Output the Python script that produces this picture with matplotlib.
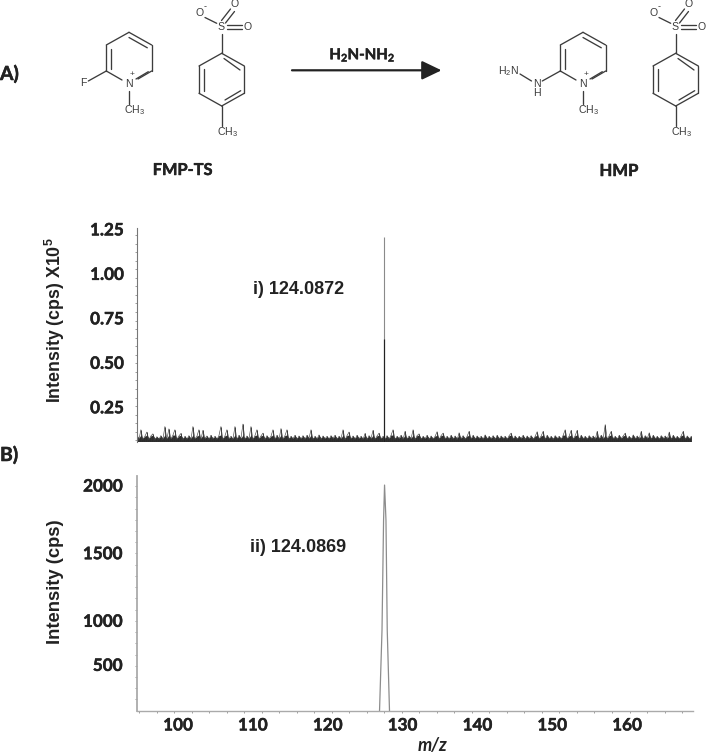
import matplotlib

matplotlib.use("Agg")
import matplotlib.patheffects as pe
import matplotlib.pyplot as plt
import numpy as np

plt.rcParams["font.family"] = ["Lato", "DejaVu Sans"]
plt.rcParams["mathtext.default"] = "regular"

W, H = 706, 754

# top spectrum, x10^5 cps
peak_top_mz = 127.55
peak_top_tall = 1.205
peak_top_dark = 0.63
noise_floor = 0.074
noise_cap = 0.092
noise_start_mz = 94.5
noise_step_mz = 0.2674
# baseline noise, in units of 0.001 x10^5 cps
noise_top = [
    92, 62, 121, 66, 84, 108, 64, 86, 98, 62,
    82, 66, 88, 64, 139, 68, 126, 70, 90, 121,
    66, 86, 100, 62, 84, 66, 88, 64, 139, 70,
    84, 121, 66, 118, 72, 86, 64, 90, 68, 84,
    66, 88, 139, 64, 86, 121, 70, 84, 66, 139,
    64, 90, 72, 153, 66, 86, 68, 139, 64, 88,
    121, 68, 86, 102, 64, 88, 70, 84, 121, 66,
    90, 64, 128, 68, 88, 121, 66, 84, 70, 90,
    64, 86, 68, 88, 66, 90, 72, 121, 66, 84,
    68, 92, 64, 86, 70, 84, 66, 88, 72, 90,
    66, 84, 70, 121, 64, 88, 108, 68, 86, 66,
    90, 70, 84, 66, 100, 64, 88, 72, 118, 66,
    86, 102, 70, 84, 66, 88, 68, 90, 121, 66,
    84, 72, 90, 66, 112, 68, 86, 70, 121, 64,
    88, 98, 66, 84, 70, 90, 64, 86, 68, 84,
    110, 66, 88, 102, 70, 84, 66, 90, 68, 86,
    64, 104, 70, 88, 66, 84, 112, 68, 90, 66,
    86, 72, 84, 66, 92, 68, 84, 70, 88, 64,
    90, 68, 86, 72, 84, 66, 88, 102, 68, 86,
    66, 84, 72, 90, 64, 86, 70, 88, 66, 84,
    110, 68, 86, 112, 66, 90, 70, 84, 64, 88,
    72, 84, 66, 90, 121, 68, 86, 118, 66, 88,
    118, 64, 90, 70, 84, 66, 88, 72, 86, 66,
    112, 68, 90, 70, 150, 66, 88, 112, 70, 84,
    66, 90, 72, 86, 102, 68, 84, 66, 92, 70,
    86, 68, 112, 66, 88, 72, 104, 66, 90, 70,
    84, 66, 88, 72, 86, 68, 108, 66, 90, 70,
    84, 68, 88, 112, 66, 86, 70, 84,
]

# bottom spectrum, cps
peak_mz = [126.92, 127.25, 127.46, 127.59, 127.78, 127.95, 128.25]
peak_cps = [333, 926, 1741, 2000, 1741, 926, 333]

top_ticks = [0.25, 0.5, 0.75, 1.0, 1.25]
top_labels = ["0.25", "0.50", "0.75", "1.00", "1.25"]
# the 500 label sits off the scale in the original figure
bottom_ticks = [674, 1000, 1500, 2000]
bottom_labels = ["500", "1000", "1500", "2000"]
x_ticks = [100, 110, 120, 130, 140, 150, 160]


def px_axes(left, top, right, bottom):
    return fig.add_axes([left / W, 1 - bottom / H, (right - left) / W, (bottom - top) / H])


fig = plt.figure(figsize=(W / 100, H / 100), dpi=100)

# overlay in pixel coordinates for the scheme
bg = fig.add_axes([0, 0, 1, 1])
bg.set_xlim(0, W)
bg.set_ylim(H, 0)
bg.axis("off")

mol = "#3c3c3c"
ink = "#222222"
# Lato bold is a bit lighter than the original face
heavy = [pe.withStroke(linewidth=0.35, foreground=ink)]


def bond(x0, y0, x1, y1, dx=0):
    bg.plot([x0 + dx, x1 + dx], [y0, y1], color=mol, lw=0.95, solid_capstyle="round")


def atom(x, y, s, dx=0, size=7.6):
    bg.text(x + dx, y, s, family="Liberation Sans", fontsize=size, color=mol, ha="center", va="center")


def heading(x, y, s, size, ha="center"):
    bg.text(x, y, s, fontsize=size, fontweight="bold", color=ink, ha=ha, va="center", path_effects=heavy)


def pyridinium(dx=0):
    bond(129, 32.3, 151.7, 45, dx=dx)
    bond(151.7, 45, 151.7, 71, dx=dx)
    bond(106.3, 71, 122, 80, dx=dx)
    bond(106.3, 71, 106.3, 45, dx=dx)
    bond(106.3, 45, 129, 32.3, dx=dx)
    bond(151.7, 71, 138, 79, dx=dx)
    bond(129, 37.5, 147.3, 47.8, dx=dx)
    bond(111, 48.5, 111, 68.5, dx=dx)
    bond(136, 79, 148.3, 71.7, dx=dx)
    bond(129, 90.5, 129, 104, dx=dx)
    atom(129, 84, "N", dx=dx)
    atom(132.5, 74.5, "+", dx=dx, size=6)
    atom(134.5, 110, "CH$_3$", dx=dx)


def tosyl(dx=0):
    ring = [(221.7, 53.3), (244.3, 66), (244.3, 93.3), (221.7, 106), (199, 93.3), (199, 66), (221.7, 53.3)]
    for a, b in zip(ring[:-1], ring[1:]):
        bond(*a, *b, dx=dx)
    bond(203.5, 68.5, 203.5, 90.7, dx=dx)
    bond(224, 58.5, 240, 70, dx=dx)
    bond(225, 100, 240.7, 90.7, dx=dx)
    bond(221.7, 33.5, 221.7, 53.3, dx=dx)
    bond(221.7, 106, 221.7, 126, dx=dx)
    atom(227.5, 132, "CH$_3$", dx=dx)
    atom(221, 26.5, "S", dx=dx)
    atom(199.3, 13.3, "O", dx=dx)
    atom(205, 6.5, "-", dx=dx, size=6.5)
    atom(235, 4, "O", dx=dx)
    atom(247.7, 26.5, "O", dx=dx)
    bond(216.7, 23.3, 205, 17.5, dx=dx)
    bond(221.5, 20.5, 230.5, 9, dx=dx)
    bond(225.5, 23, 234.5, 11.5, dx=dx)
    bond(226.7, 24.7, 241.7, 24.7, dx=dx)
    bond(226.7, 29.3, 241.7, 29.3, dx=dx)


pyridinium()
tosyl()
bond(106.3, 71, 88.3, 81)
atom(83, 83.5, "F")

pyridinium(dx=454)
tosyl(dx=454)
bond(560.3, 71, 542.3, 81)
bond(531.5, 81, 520, 74)
atom(537, 84, "N")
atom(537, 93.5, "H")
atom(508, 71, "H$_2$N")

bg.annotate(
    "",
    xy=(441.5, 70.3),
    xytext=(292, 70.3),
    arrowprops=dict(arrowstyle="-|>,head_length=0.75,head_width=0.36", color=ink, lw=1.6, shrinkA=0, shrinkB=0, mutation_scale=16),
)
heading(362.5, 55, "H$_2$N-NH$_2$", 10.8)
heading(182.7, 171, "FMP-TS", 11.8)
heading(619, 171, "HMP", 12)
heading(0, 74, "A)", 14, ha="left")
heading(0, 455, "B)", 14, ha="left")

# x range shared by the two panels
xlim = (94.45, 168.8)

ax1 = px_axes(136.5, 228, 693, 441.5)
ax1.set_xlim(xlim)
ax1.set_ylim(0.055, 1.255)
noise_mz = noise_start_mz + noise_step_mz * np.arange(len(noise_top))
noise = np.array(noise_top) / 1000
# jagged dark band, thin zigzag and sticks for the taller spikes
band = np.clip(noise, noise_floor, noise_cap)
ax1.fill_between(noise_mz, 0.055, band, color="#2c2c2c", lw=0)
ax1.plot(noise_mz, noise, color="#444444", lw=0.45)
ax1.vlines(noise_mz, 0.055, noise, color="#333333", lw=0.6)
ax1.vlines(peak_top_mz, 0.055, peak_top_tall, color="#8a8a8a", lw=0.8)
ax1.vlines(peak_top_mz, 0.055, peak_top_dark, color=ink, lw=0.85)
for side in ["top", "right", "bottom"]:
    ax1.spines[side].set_visible(False)
ax1.spines["left"].set_color("#777777")
ax1.spines["left"].set_linewidth(0.8)
ax1.set_xticks([])
ax1.set_yticks(top_ticks)
ax1.set_yticklabels(top_labels, fontsize=12.3, fontweight="bold", color=ink, path_effects=heavy)
ax1.set_yticks(np.arange(0.0615, 1.25, 0.0481), minor=True)
ax1.tick_params(axis="y", which="major", length=0, pad=9)
ax1.tick_params(axis="y", which="minor", length=1.3, width=0.5, color="#777777")

ax2 = px_axes(136.5, 476, 693, 710.5)
ax2.set_xlim(xlim)
ax2.set_ylim(333, 2067)
ax2.plot(peak_mz, peak_cps, color="#8c8c8c", lw=0.9)
for side in ["top", "right"]:
    ax2.spines[side].set_visible(False)
ax2.spines["left"].set_color("#aaaaaa")
ax2.spines["left"].set_linewidth(1.3)
ax2.spines["bottom"].set_color("#aaaaaa")
ax2.spines["bottom"].set_linewidth(1.0)
ax2.set_yticks(bottom_ticks)
ax2.set_yticklabels(bottom_labels, fontsize=12.3, fontweight="bold", color=ink, path_effects=heavy)
ax2.set_yticks(np.arange(415, 2030, 83), minor=True)
ax2.set_xticks(x_ticks)
ax2.set_xticklabels(x_ticks, fontsize=12.3, fontweight="bold", color=ink, path_effects=heavy)
ax2.set_xticks(np.arange(94.8, 168.8, 2.34), minor=True)
ax2.tick_params(axis="both", which="major", length=0)
ax2.tick_params(axis="y", which="major", pad=10)
ax2.tick_params(axis="x", which="major", pad=5)
ax2.tick_params(axis="both", which="minor", length=1.3, width=0.5, color="#777777")

for ax in [ax1, ax2]:
    ax.patch.set_alpha(0)

label_font = dict(family="Liberation Sans", fontweight="bold", color=ink, ha="center", va="center")
bg.text(55, 320, "Intensity (cps) X10$^5$", rotation=90, fontsize=12.8, **label_font)
bg.text(55, 582, "Intensity (cps)", rotation=90, fontsize=13.2, **label_font)
bg.text(299, 289.5, "i) 124.0872", fontsize=13, **label_font)
bg.text(298, 547.5, "ii) 124.0869", fontsize=13, **label_font)
bg.text(433, 746, "m/z", fontsize=13, fontweight="bold", fontstyle="italic", color=ink, ha="center", va="center")

fig.savefig("out.png", dpi=100)
